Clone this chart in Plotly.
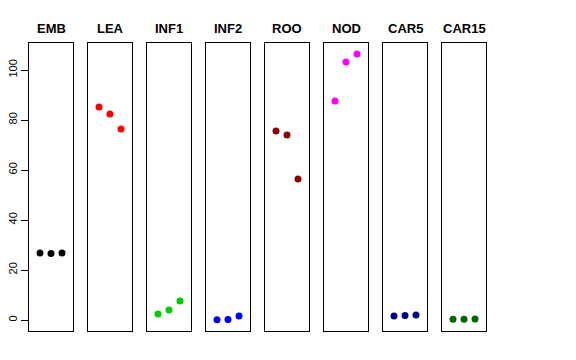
import plotly.graph_objects as go

panels = ["EMB", "LEA", "INF1", "INF2", "ROO", "NOD", "CAR5", "CAR15"]
colors = ["#000000", "#FF0000", "#00CD00", "#0000FF", "#8B0000", "#FF00FF", "#00008B", "#006400"]
x_pos = [1, 2, 3]
values = [
    [26.8, 26.6, 26.8],
    [85.2, 82.4, 76.4],
    [2.4, 4.0, 7.6],
    [0.1, 0.2, 1.6],
    [75.6, 74.0, 56.4],
    [87.6, 103.2, 106.4],
    [1.6, 1.8, 2.0],
    [0.3, 0.3, 0.4],
]
y_ticks = [0, 20, 40, 60, 80, 100]

W, H = 576, 360
OFF = 8  # page body margin offset
fig = go.Figure()
layout = dict(width=W, height=H, margin=dict(l=0, r=0, t=0, b=0, autoexpand=False),
              plot_bgcolor="white", paper_bgcolor="white", showlegend=False,
              font=dict(family="Liberation Sans, Arial, sans-serif", color="black"))
annotations = []
ydom = [1 - (331 - OFF) / H, 1 - (43 - OFF) / H]
for k, (name, col, vals) in enumerate(zip(panels, colors, values)):
    i = k + 1
    left = 29 + 59 * k - OFF
    right = left + 44
    xa = "xaxis" if i == 1 else f"xaxis{i}"
    ya = "yaxis" if i == 1 else f"yaxis{i}"
    xr = "x" if i == 1 else f"x{i}"
    yr = "y" if i == 1 else f"y{i}"
    layout[xa] = dict(domain=[left / W, right / W], range=[0, 4], showgrid=False,
                      zeroline=False, showticklabels=False, ticks="",
                      showline=True, mirror=True, linecolor="black", linewidth=1,
                      anchor=yr, fixedrange=True, automargin=False)
    ya_d = dict(domain=ydom, range=[-4.4, 110.8], showgrid=False, zeroline=False,
                showline=True, mirror=True, linecolor="black", linewidth=1,
                anchor=xr, automargin=False)
    if i == 1:
        ya_d.update(ticks="outside", ticklen=7, tickcolor="black", tickvals=y_ticks,
                    tickangle=-90, tickfont=dict(size=11, color="black"))
    else:
        ya_d.update(showticklabels=False, ticks="")
    layout[ya] = ya_d
    fig.add_trace(go.Scatter(x=x_pos, y=vals, mode="markers", xaxis=xr, yaxis=yr,
                             cliponaxis=False,
                             marker=dict(color=col, size=7, line=dict(width=0))))
    annotations.append(dict(text=f"<b>{name}</b>", x=(left + right) / 2 / W,
                            y=1 - (28 - OFF) / H, xref="paper", yref="paper",
                            xanchor="center", yanchor="middle", showarrow=False,
                            font=dict(size=13, color="black")))
layout["annotations"] = annotations
fig.update_layout(**layout)
fig.write_html("out.html")
